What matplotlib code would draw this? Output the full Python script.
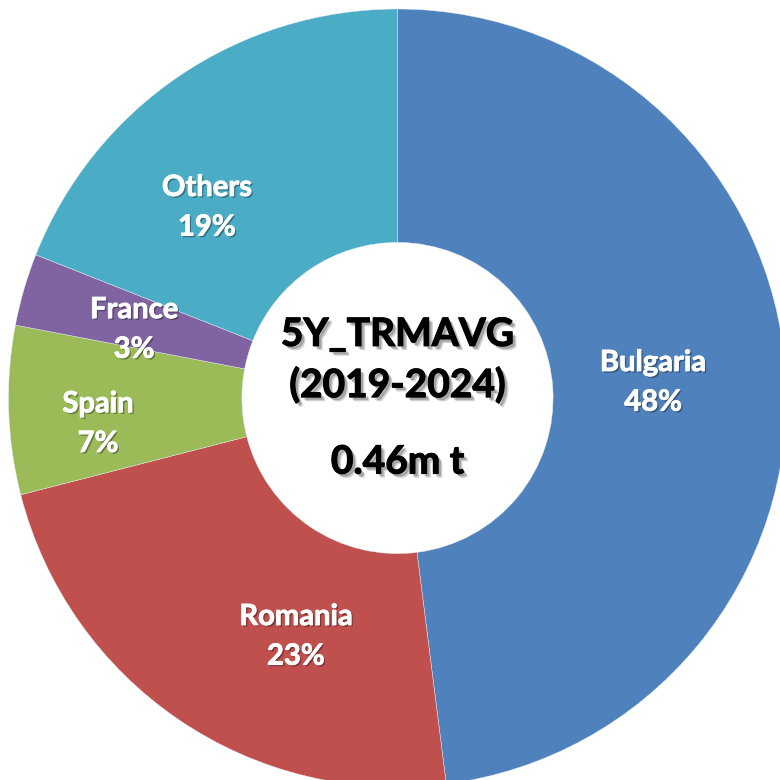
import matplotlib.pyplot as plt
import matplotlib.patheffects as pe

# share of the 5-year trimmed average, clockwise from 12 o'clock
countries = ["Bulgaria", "Romania", "Spain", "France", "Others"]
shares = [48, 23, 7, 3, 19]
colors = ["#4F81BD", "#C0504D", "#9BBB59", "#8064A2", "#4BACC6"]

# label anchors (data units, pie radius = 1)
label_xy = [(0.657, 0.039), (-0.261, -0.614), (-0.770, -0.067),
            (-0.677, 0.175), (-0.490, 0.489)]

center_title = "5Y_TRMAVG\n(2019-2024)"
center_total = "0.46m t"

W = H = 780
cx, cy, R = 397.5, 398.0, 389.0

fig = plt.figure(figsize=(7.8, 7.8), dpi=100)
ax = fig.add_axes([0, 0, 1, 1])

ax.pie(shares, colors=colors, startangle=90, counterclock=False, radius=1.0,
       wedgeprops=dict(width=0.6, edgecolor="#e8eef5", linewidth=0.3))

# pie() resets the view, so crop afterwards
ax.set_xlim(-cx / R, (W - cx) / R)
ax.set_ylim(-(H - cy) / R, cy / R)
ax.set_aspect("equal")
ax.axis("off")

label_fx = [pe.SimplePatchShadow(offset=(1.2, -1.2), shadow_rgbFace="black", alpha=0.35),
            pe.Stroke(linewidth=0.6, foreground="white"),
            pe.Normal()]
for name, val, (x, y) in zip(countries, shares, label_xy):
    ax.text(x, y, f"{name}\n{val}%", ha="center", va="center", color="white",
            fontsize=21, fontweight="bold", family="Lato", linespacing=1.65,
            path_effects=label_fx)

center_fx = [pe.SimplePatchShadow(offset=(3, -3), shadow_rgbFace="black", alpha=0.18),
             pe.SimplePatchShadow(offset=(2, -2), shadow_rgbFace="black", alpha=0.22),
             pe.Stroke(linewidth=0.8, foreground="black"),
             pe.Normal()]
ax.text(0, (cy - 360) / R, center_title, ha="center", va="center", color="black",
        fontsize=28, fontweight="bold", family="Lato", linespacing=1.5,
        path_effects=center_fx)
ax.text(0, (cy - 462) / R, center_total, ha="center", va="center", color="black",
        fontsize=28, fontweight="bold", family="Lato", path_effects=center_fx)

fig.savefig("out.png", dpi=100)
